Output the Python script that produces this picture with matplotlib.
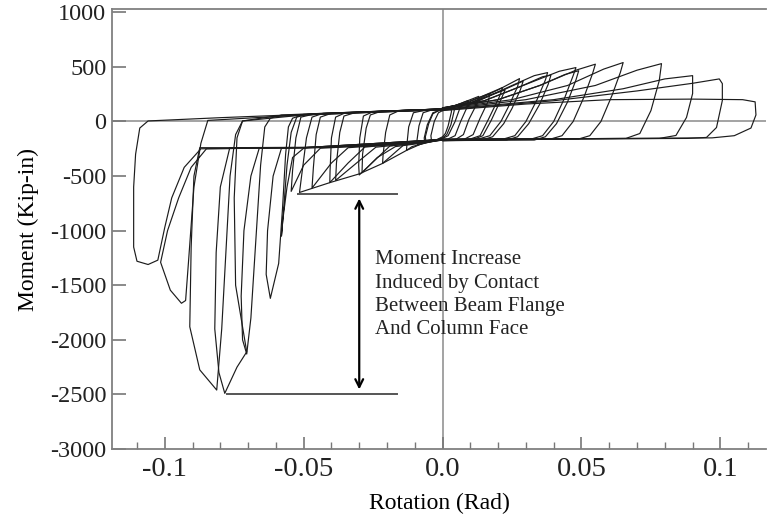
import numpy as np
import matplotlib.pyplot as plt
from matplotlib.ticker import MultipleLocator, FixedLocator, FixedFormatter

plt.rcParams['font.family'] = ['Liberation Serif', 'DejaVu Serif']

# positive excursions: (rotation rad, moment kip-in), loading then unloading
pos_01 = [(0, 100), (0.0015, 120), (0.003, 130), (0.0032, 90), (0.002, -40), (0.001, -110), (0, -140)]
pos_02 = [(0, 105), (0.002, 125), (0.004, 140), (0.0042, 100), (0.003, -30), (0.0015, -120), (0, -150)]
pos_03 = [(0, 110), (0.003, 135), (0.006, 160), (0.0062, 120), (0.0045, 0), (0.002, -130), (0, -155)]
pos_04 = [(0, 115), (0.004, 140), (0.0075, 175), (0.009, 190), (0.0088, 130), (0.0065, 0),
          (0.0045, -130), (0.002, -160), (0, -160)]
pos_05 = [(0, 120), (0.005, 150), (0.01, 200), (0.013, 230), (0.0125, 170), (0.0095, 20),
          (0.0075, -120), (0.005, -160), (0, -165)]
pos_06 = [(0, 120), (0.006, 150), (0.012, 210), (0.017, 256), (0.0165, 190), (0.0135, 30),
          (0.011, -120), (0.008, -160), (0, -170)]
pos_07 = [(0, 125), (0.008, 160), (0.016, 250), (0.0216, 311), (0.0205, 230), (0.0165, 20),
          (0.0135, -130), (0.01, -160), (0, -170)]
pos_08 = [(0, 125), (0.01, 170), (0.02, 290), (0.0277, 393), (0.027, 320), (0.024, 150),
          (0.021, 0), (0.017, -130), (0.013, -160), (0, -170)]
pos_09 = [(0, 125), (0.012, 180), (0.025, 330), (0.033, 420), (0.0378, 448), (0.037, 380),
          (0.034, 200), (0.030, 0), (0.026, -130), (0.022, -160), (0, -170)]
pos_10 = [(0, 120), (0.015, 190), (0.03, 340), (0.042, 460), (0.048, 494), (0.047, 420),
          (0.044, 220), (0.040, 0), (0.036, -130), (0.032, -160), (0, -170)]
pos_11 = [(0, 120), (0.02, 200), (0.035, 330), (0.048, 470), (0.055, 525), (0.054, 440),
          (0.051, 230), (0.047, 0), (0.043, -130), (0.039, -160), (0, -165)]
pos_12 = [(0, 115), (0.025, 200), (0.045, 330), (0.058, 480), (0.065, 540), (0.064, 450),
          (0.061, 240), (0.057, 0), (0.053, -130), (0.049, -160), (0, -165)]
pos_13 = [(0, 110), (0.03, 200), (0.055, 330), (0.07, 470), (0.0788, 530), (0.078, 375),
          (0.075, 100), (0.071, -110), (0.066, -155), (0, -165)]
pos_14 = [(0, 110), (0.04, 200), (0.065, 300), (0.08, 390), (0.09, 420), (0.09, 256),
          (0.0878, 37), (0.084, -128), (0.078, -155), (0, -165)]
pos_15 = [(0, 105), (0.04, 190), (0.07, 280), (0.09, 350), (0.0996, 390), (0.1007, 347),
          (0.1007, 192), (0.0986, -55), (0.095, -146), (0.088, -155), (0, -165)]
pos_16 = [(0, 100), (0.03, 160), (0.06, 200), (0.09, 205), (0.108, 200), (0.1125, 180),
          (0.1128, 60), (0.111, -60), (0.105, -130), (0.097, -150), (0, -165)]

# second cycles at the same amplitude (slightly softer)
pos_07r = [(0, 120), (0.01, 170), (0.018, 250), (0.0225, 290), (0.021, 200), (0.0175, 10),
           (0.0145, -130), (0.011, -165), (0, -175)]
pos_08r = [(0, 120), (0.012, 180), (0.022, 290), (0.029, 370), (0.028, 290), (0.025, 120),
           (0.022, -20), (0.018, -140), (0.014, -170), (0, -175)]
pos_09r = [(0, 120), (0.015, 190), (0.028, 320), (0.036, 410), (0.039, 425), (0.038, 340),
           (0.035, 160), (0.031, -20), (0.027, -140), (0.023, -170), (0, -175)]
pos_10r = [(0, 115), (0.02, 200), (0.035, 330), (0.044, 430), (0.049, 465), (0.048, 380),
           (0.045, 180), (0.041, -20), (0.037, -140), (0.033, -170), (0, -175)]

# negative excursions: unloading branch, drop to peak, reversal, reloading branch
neg_01 = [(0, -140), (-0.002, -165), (-0.004, -175), (-0.0042, -130), (-0.003, 0), (-0.0015, 80), (0, 100)]
neg_02 = [(0, -150), (-0.003, -175), (-0.006, -185), (-0.0062, -140), (-0.005, -20),
          (-0.0035, 70), (-0.0015, 100), (0, 108)]
neg_03 = [(0, -155), (-0.0035, -180), (-0.0065, -195), (-0.0066, -150), (-0.0055, -30),
          (-0.0035, 80), (0, 110)]
neg_04 = [(0, -160), (-0.005, -190), (-0.009, -215), (-0.0092, -170), (-0.0085, -40),
          (-0.007, 80), (-0.004, 105), (0, 112)]
neg_05 = [(0, -165), (-0.006, -195), (-0.011, -230), (-0.013, -265), (-0.0128, -200),
          (-0.0122, -50), (-0.0105, 80), (-0.006, 105), (0, 115)]
neg_06 = [(0, -165), (-0.01, -200), (-0.014, -215), (-0.0216, -384), (-0.0214, -300),
          (-0.0205, -100), (-0.019, 60), (-0.016, 95), (0, 115)]
neg_07 = [(0, -165), (-0.012, -205), (-0.019, -225), (-0.030, -490), (-0.0302, -400),
          (-0.0298, -150), (-0.0285, 50), (-0.025, 90), (0, 115)]
neg_08 = [(0, -165), (-0.02, -215), (-0.028, -235), (-0.034, -380), (-0.0406, -560),
          (-0.0405, -450), (-0.040, -150), (-0.0385, 40), (-0.035, 80), (0, 115)]
neg_09 = [(0, -165), (-0.005, -175), (-0.013, -265), (-0.0216, -384), (-0.030, -480),
          (-0.0406, -560), (-0.0515, -650), (-0.0505, -450), (-0.049, -150), (-0.047, 40),
          (-0.043, 75), (0, 115)]
neg_10 = [(0, -165), (-0.03, -225), (-0.05, -245), (-0.054, -330), (-0.056, -600),
          (-0.0575, -900), (-0.058, -1050), (-0.0572, -800), (-0.056, -400), (-0.0545, -100),
          (-0.0525, 40), (-0.048, 70), (0, 115)]
neg_11 = [(0, -165), (-0.03, -225), (-0.058, -245), (-0.061, -500), (-0.063, -1000),
          (-0.0635, -1400), (-0.062, -1620), (-0.059, -1300), (-0.0576, -790), (-0.0565, -300),
          (-0.0555, -50), (-0.054, 30), (-0.05, 65), (0, 115)]
neg_12 = [(0, -165), (-0.04, -235), (-0.066, -245), (-0.069, -500), (-0.0715, -1000),
          (-0.0725, -1600), (-0.072, -2000), (-0.0705, -2130), (-0.069, -1800), (-0.067, -1000),
          (-0.0655, -400), (-0.064, -50), (-0.062, 30), (-0.058, 60), (0, 115)]
neg_13 = [(0, -165), (-0.04, -235), (-0.0766, -240), (-0.080, -600), (-0.0815, -1200),
          (-0.082, -1900), (-0.0805, -2300), (-0.0784, -2490), (-0.074, -2250), (-0.0705, -2110),
          (-0.0745, -1500), (-0.075, -700), (-0.074, -150), (-0.072, 5), (-0.06, 50), (0, 112)]
neg_14 = [(0, -165), (-0.05, -240), (-0.0874, -240), (-0.0895, -500), (-0.0905, -1150),
          (-0.091, -1880), (-0.0874, -2275), (-0.0813, -2460), (-0.0795, -1900), (-0.078, -1200),
          (-0.0765, -500), (-0.0745, -120), (-0.072, 5), (-0.05, 60), (0, 110)]
neg_15 = [(0, -165), (-0.05, -240), (-0.085, -250), (-0.0905, -420), (-0.095, -700),
          (-0.099, -1000), (-0.1015, -1290), (-0.098, -1545), (-0.094, -1665), (-0.0925, -1640),
          (-0.0915, -1300), (-0.0895, -600), (-0.087, -200), (-0.0845, 10), (-0.05, 60), (0, 108)]
neg_16 = [(0, -165), (-0.05, -240), (-0.087, -250), (-0.093, -420), (-0.0975, -700),
          (-0.1, -970), (-0.1015, -1150), (-0.1025, -1270), (-0.106, -1310), (-0.110, -1280),
          (-0.1112, -1150), (-0.1112, -600), (-0.1105, -300), (-0.109, -60), (-0.106, 5),
          (-0.08, 35), (-0.04, 75), (0, 105)]

neg_07r = [(0, -170), (-0.008, -200), (-0.017, -230), (-0.0235, -330), (-0.029, -470),
           (-0.0288, -300), (-0.0275, -60), (-0.026, 60), (-0.022, 95), (0, 112)]
neg_08r = [(0, -170), (-0.012, -205), (-0.024, -235), (-0.030, -360), (-0.0385, -540),
           (-0.0382, -380), (-0.037, -100), (-0.0355, 50), (-0.031, 85), (0, 112)]
neg_09r = [(0, -170), (-0.02, -215), (-0.034, -240), (-0.040, -380), (-0.047, -610),
           (-0.0465, -420), (-0.0455, -120), (-0.044, 40), (-0.040, 75), (0, 112)]
neg_10r = [(0, -170), (-0.025, -220), (-0.044, -245), (-0.050, -400), (-0.0545, -640),
           (-0.054, -450), (-0.0528, -150), (-0.051, 40), (-0.046, 70), (0, 112)]

pos_loops = [pos_01, pos_02, pos_03, pos_04, pos_05, pos_06, pos_07, pos_07r, pos_08, pos_08r,
             pos_09, pos_09r, pos_10, pos_10r, pos_11, pos_12, pos_13, pos_14, pos_15, pos_16]
neg_loops = [neg_01, neg_02, neg_03, neg_04, neg_05, neg_06, neg_07, neg_07r, neg_08, neg_08r,
             neg_09, neg_09r, neg_10, neg_10r, neg_11, neg_12, neg_13, neg_14, neg_15, neg_16]

# contact annotation
contact_start = -660
contact_peak = -2500
contact_start_rot = -0.052
contact_peak_rot = -0.0777
marker_end_rot = -0.0165
arrow_rot = -0.030
note_lines = ["Moment Increase", "Induced by Contact", "Between Beam Flange", "And Column Face"]

x_ticks = [-0.1, -0.05, 0.0, 0.05, 0.1]
x_tick_labels = ["-0.1", "-0.05", "0.0", "0.05", "0.1"]
y_ticks = [-3000, -2500, -2000, -1500, -1000, -500, 0, 500, 1000]

fig = plt.figure(figsize=(7.67, 5.17), dpi=100)
ax = fig.add_axes([0.146, 0.1315, 0.853, 0.851])

# full cycles: each positive excursion followed by the matching negative one
for p, n in zip(pos_loops, neg_loops):
    pts = np.array(p + n)
    ax.plot(pts[:, 0], pts[:, 1], color="#1c1c1c", lw=0.85, solid_joinstyle="round")

ax.axhline(0, color="#8a8a8a", lw=1.1, zorder=0)
ax.axvline(0, color="#8a8a8a", lw=1.1, zorder=0)

ax.plot([contact_start_rot, marker_end_rot], [contact_start, contact_start], color="#555555", lw=1.4)
ax.plot([contact_peak_rot, marker_end_rot], [contact_peak, contact_peak], color="#555555", lw=1.4)
ax.annotate("", xy=(arrow_rot, contact_peak + 20), xytext=(arrow_rot, contact_start - 20),
            arrowprops=dict(arrowstyle="<->", color="black", lw=1.6, mutation_scale=14))
ax.text(-0.0245, -1180, "\n".join(note_lines), fontsize=15, va="top", ha="left",
        linespacing=1.3, color="#222222")

ax.set_xlim(-0.119, 0.1165)
ax.set_ylim(-3000, 1030)
ax.xaxis.set_major_locator(FixedLocator(x_ticks))
ax.xaxis.set_major_formatter(FixedFormatter(x_tick_labels))
ax.xaxis.set_minor_locator(MultipleLocator(0.01))
ax.set_yticks(y_ticks)
ax.set_yticklabels([str(v) for v in y_ticks])

ax.tick_params(axis="x", which="major", direction="in", length=9, width=1.2, color="#777777",
               labelsize=20.5, pad=6, labelcolor="#222222")
ax.tick_params(axis="x", which="minor", direction="in", length=5, width=1.0, color="#777777")
ax.tick_params(axis="y", which="major", direction="in", length=10, width=1.2, color="#777777",
               labelsize=17.5, pad=4, labelcolor="#222222")

for side in ["left", "bottom", "top"]:
    ax.spines[side].set_color("#808080")
    ax.spines[side].set_linewidth(1.3)
ax.spines["right"].set_visible(False)

ax.set_xlabel("Rotation (Rad)", fontsize=17)
ax.set_ylabel("Moment (Kip-in)", fontsize=17, labelpad=8)
ax.xaxis.set_label_coords(0.5, -0.1)

fig.savefig("out.png", dpi=100)
